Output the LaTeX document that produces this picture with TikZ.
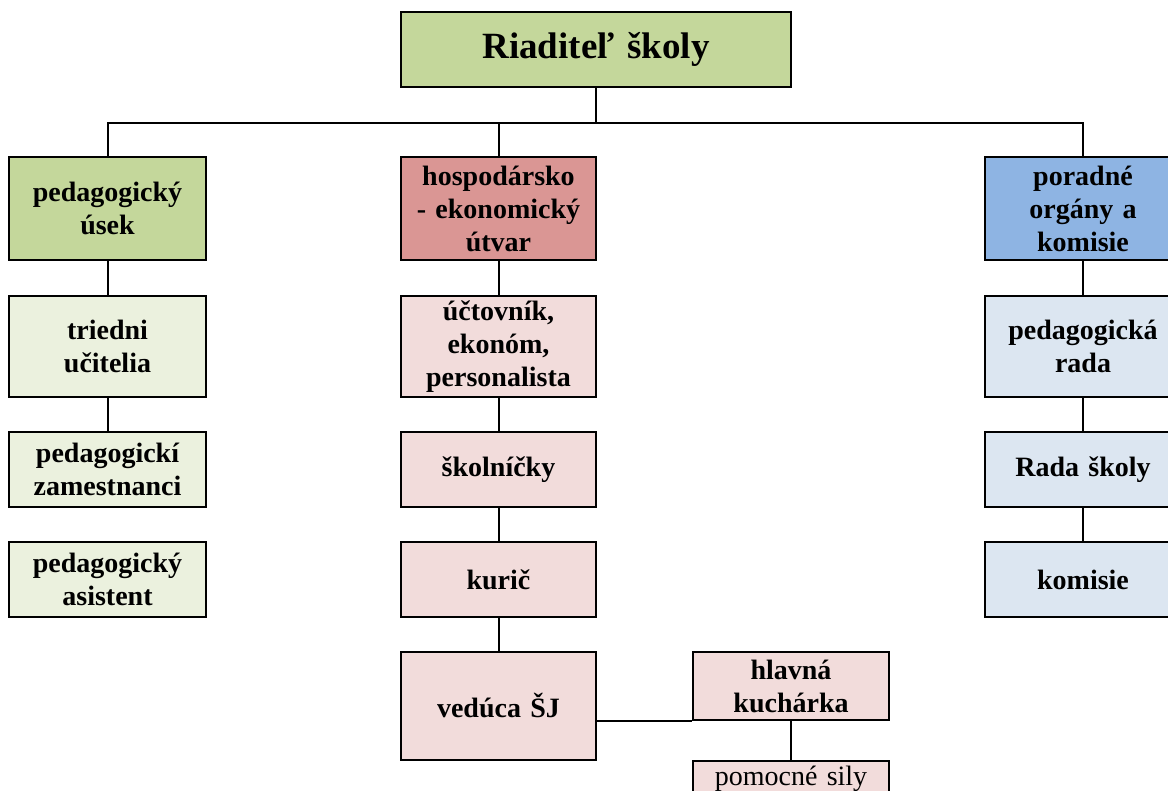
\documentclass[tikz,border=0pt]{standalone}
\usepackage{fontspec}
\setmainfont{Liberation Serif}
\definecolor{gTop}{HTML}{C4D79B}
\definecolor{gLight}{HTML}{EBF1DE}
\definecolor{rTop}{HTML}{DA9694}
\definecolor{rLight}{HTML}{F2DCDB}
\definecolor{bTop}{HTML}{8EB4E3}
\definecolor{bLight}{HTML}{DCE6F1}
\begin{document}
\begin{tikzpicture}[x=1pt,y=-1pt,
  box/.style={draw=black, line width=2pt, inner sep=0pt, align=center,
    font=\fontsize{28}{33}\selectfont\bfseries},
  w197/.style={text width=197pt},
  w195/.style={text width=195pt},
  conn/.style={draw=black, line width=2pt}]
\useasboundingbox (0,0) rectangle (1168,791);
\clip (0,0) rectangle (1168,791);
\fill[white] (0,0) rectangle (1168,791);
% top
\node[box, fill=gTop, text width=390pt, minimum height=75pt,
  font=\fontsize{37}{42}\selectfont\bfseries] (top) at (596,49.5) {Riaditeľ školy};
% left column
\node[box, w197, fill=gTop, minimum height=103pt] (ped) at (107.5,208.5) {pedagogický\\úsek};
\node[box, w197, fill=gLight, minimum height=101pt] (tried) at (107.5,346.5) {triedni\\učitelia};
\node[box, w197, fill=gLight, minimum height=75pt] (zam) at (107.5,469.5) {pedagogickí\\zamestnanci};
\node[box, w197, fill=gLight, minimum height=75pt] (asist) at (107.5,579.5) {pedagogický\\asistent};
% middle column
\node[box, w195, fill=rTop, minimum height=103pt] (hosp) at (498.5,208.5) {hospodársko\\- ekonomický\\útvar};
\node[box, w195, fill=rLight, minimum height=101pt] (uct) at (498.5,346.5) {účtovník,\\ekonóm,\\personalista};
\node[box, w195, fill=rLight, minimum height=75pt] (skol) at (498.5,469.5) {školníčky};
\node[box, w195, fill=rLight, minimum height=75pt] (kuric) at (498.5,579.5) {kurič};
\node[box, w195, fill=rLight, minimum height=108pt] (ved) at (498.5,706) {vedúca ŠJ};
\node[box, text width=196pt, fill=rLight, minimum height=68pt] (hlav) at (791,686) {hlavná\\kuchárka};
\node[box, text width=196pt, fill=rLight, anchor=north, inner ysep=5pt,
  font=\fontsize{28}{33}\selectfont\mdseries] (pom) at (791,760) {pomocné sily};
% right column
\node[box, w197, fill=bTop, minimum height=103pt] (por) at (1083,208.5) {poradné\\orgány a\\komisie};
\node[box, w197, fill=bLight, minimum height=101pt] (prada) at (1083,346.5) {pedagogická\\rada};
\node[box, w197, fill=bLight, minimum height=75pt] (rada) at (1083,469.5) {Rada školy};
\node[box, w197, fill=bLight, minimum height=75pt] (kom) at (1083,579.5) {komisie};
% connectors
\draw[conn] (top.south) -- ++(0,35) coordinate (j);
\draw[conn] (ped.north) -- (ped.north |- j) -- (por.north |- j) -- (por.north);
\draw[conn] (hosp.north) -- (hosp.north |- j);
\draw[conn] (ped.south) -- (tried.north);
\draw[conn] (tried.south) -- (zam.north);
\draw[conn] (hosp.south) -- (uct.north);
\draw[conn] (uct.south) -- (skol.north);
\draw[conn] (skol.south) -- (kuric.north);
\draw[conn] (kuric.south) -- (ved.north);
\draw[conn] (por.south) -- (prada.north);
\draw[conn] (prada.south) -- (rada.north);
\draw[conn] (rada.south) -- (kom.north);
\draw[conn] (ved.east |- hlav.south) -- (hlav.south west);
\draw[conn] (hlav.south) -- (pom.north);
\end{tikzpicture}
\end{document}
